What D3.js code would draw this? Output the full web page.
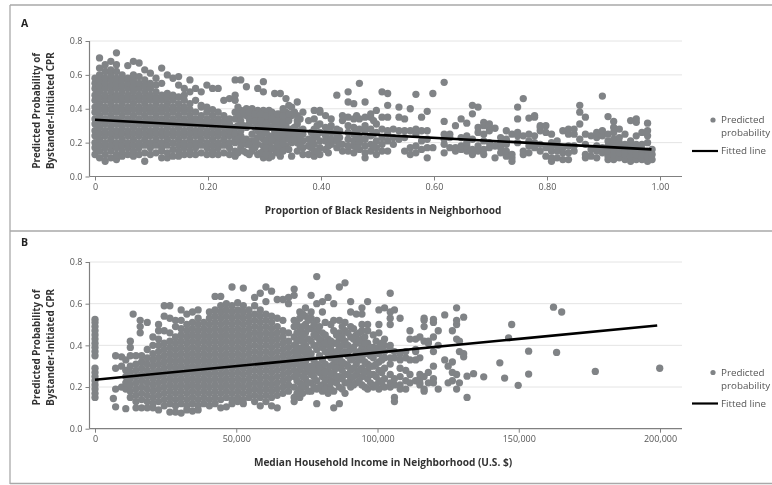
<!DOCTYPE html>
<html>
<head>
<meta charset="utf-8">
<script src="https://cdn.jsdelivr.net/npm/d3@7"></script>
<style>
body { margin: 0; background: #fff; }
svg { display: block; font-family: "Open Sans", sans-serif; filter: blur(0.35px); }
</style>
</head>
<body>
<svg id="chart" width="772" height="485"></svg>
<script>
// values: [x, [y, y, ...]]
var pointsA = [
  [0.000, [.13,.17,.20,.24,.27,.31,.34,.38,.41,.45,.48,.52,.55,.58]],
  [0.008, [.11,.15,.185,.22,.255,.29,.325,.36,.395,.43,.465,.50,.535,.57,.60,.64,.70]],
  [0.018, [.09,.13,.17,.20,.24,.27,.31,.34,.38,.41,.45,.48,.52,.55,.58,.62,.66]],
  [0.028, [.11,.15,.185,.22,.255,.29,.325,.36,.395,.43,.465,.50,.535,.57,.60,.63,.68]],
  [0.038, [.10,.13,.17,.20,.24,.27,.31,.34,.38,.41,.45,.48,.52,.55,.58,.62,.66,.73]],
  [0.048, [.12,.15,.185,.22,.255,.29,.325,.36,.395,.43,.465,.50,.535,.57,.60]],
  [0.058, [.13,.17,.20,.24,.27,.31,.34,.38,.41,.45,.48,.52,.55,.58,.655]],
  [0.068, [.12,.15,.185,.22,.255,.29,.325,.36,.395,.43,.465,.50,.535,.57,.60,.68]],
  [0.078, [.13,.17,.20,.24,.27,.31,.34,.38,.41,.45,.48,.52,.55,.59,.67]],
  [0.088, [.09,.14,.185,.22,.255,.29,.325,.36,.395,.43,.465,.50,.535,.57,.63]],
  [0.098, [.13,.17,.20,.24,.27,.31,.34,.38,.41,.45,.48,.52,.55,.61]],
  [0.108, [.14,.185,.22,.255,.29,.325,.36,.395,.43,.465,.50,.54,.58]],
  [0.118, [.11,.15,.17,.20,.24,.27,.31,.34,.38,.41,.45,.48,.55,.64]],
  [0.128, [.11,.14,.185,.22,.255,.29,.325,.36,.395,.43,.465,.49,.60]],
  [0.138, [.12,.16,.20,.24,.27,.31,.34,.38,.41,.45,.48,.58]],
  [0.148, [.12,.15,.185,.22,.255,.29,.325,.36,.395,.43,.47,.54,.59]],
  [0.158, [.13,.17,.20,.24,.27,.31,.34,.38,.41,.45,.48,.52]],
  [0.168, [.13,.15,.185,.22,.255,.29,.325,.36,.395,.43,.50,.57]],
  [0.178, [.13,.17,.20,.24,.27,.31,.34,.38,.45,.52]],
  [0.188, [.14,.185,.22,.255,.29,.325,.36,.41,.42,.50]],
  [0.198, [.13,.17,.20,.24,.27,.31,.34,.38,.41,.54]],
  [0.208, [.13,.15,.185,.22,.255,.29,.325,.36,.395,.52]],
  [0.218, [.13,.17,.20,.24,.27,.31,.34,.38,.52]],
  [0.228, [.14,.185,.22,.255,.29,.325,.36,.45]],
  [0.238, [.13,.17,.20,.24,.27,.31,.34,.46]],
  [0.248, [.12,.15,.20,.22,.255,.29,.34,.38,.45,.48,.57]],
  [0.258, [.17,.20,.24,.27,.33,.36,.39,.57]],
  [0.268, [.14,.19,.22,.29,.36,.40,.53]],
  [0.278, [.15,.17,.21,.25,.33,.36,.40]],
  [0.288, [.13,.19,.23,.27,.31,.35,.39,.52]],
  [0.298, [.11,.15,.18,.22,.26,.30,.34,.39,.50,.56]],
  [0.308, [.11,.14,.19,.24,.29,.33,.39]],
  [0.318, [.16,.21,.25,.27,.31,.34,.49]],
  [0.328, [.12,.17,.22,.26,.30,.34,.37,.49]],
  [0.338, [.18,.23,.27,.30,.35,.38,.46]],
  [0.348, [.12,.20,.24,.28,.36,.41]],
  [0.358, [.15,.20,.24,.31,.33,.36,.44]],
  [0.368, [.13,.17,.21,.25,.28,.38]],
  [0.378, [.13,.18,.22,.33]],
  [0.388, [.12,.15,.19,.23,.28,.34,.39]],
  [0.398, [.13,.17,.21,.26,.31,.38,.39]],
  [0.408, [.16,.21,.24,.29,.36]],
  [0.418, [.19,.22,.26,.30,.34]],
  [0.428, [.17,.21,.24,.28,.48]],
  [0.438, [.15,.19,.33,.36]],
  [0.448, [.15,.18,.22,.26,.30,.35,.44,.50]],
  [0.458, [.14,.18,.21,.25,.29,.34,.43]],
  [0.468, [.16,.20,.23,.28,.34,.55]],
  [0.478, [.11,.14,.18,.22,.27,.30,.35,.44]],
  [0.488, [.15,.19,.24,.28,.35,.37]],
  [0.498, [.13,.17,.21,.26,.31,.39]],
  [0.508, [.15,.19,.23,.28,.35,.50]],
  [0.518, [.15,.21,.25,.27,.35,.42,.49]],
  [0.528, [.19,.23,.28]],
  [0.538, [.22,.27,.35,.41]],
  [0.548, [.15,.23,.27,.34]],
  [0.558, [.13,.17,.27,.40]],
  [0.568, [.14,.18,.25,.28,.485]],
  [0.578, [.16,.21,.27,.35]],
  [0.588, [.11,.17,.22,.27,.385]],
  [0.598, [.17,.49]],
  [0.618, [.14,.19,.22,.25,.325,.556]],
  [0.628, [.17,.23,.25]],
  [0.638, [.15,.17,.30]],
  [0.648, [.16,.18,.23,.34]],
  [0.658, [.15,.18,.20,.24,.315]],
  [0.668, [.13,.16,.22,.37,.42]],
  [0.678, [.15,.18,.26,.29,.41]],
  [0.688, [.13,.16,.21,.25,.32,.30]],
  [0.698, [.17,.20,.27,.31,.29]],
  [0.708, [.11,.18,.285]],
  [0.718, [.14,.17,.20,.23]],
  [0.728, [.12,.15,.19,.22,.27]],
  [0.738, [.09,.11,.13,.25]],
  [0.748, [.20,.24,.26,.34,.41]],
  [0.758, [.13,.15,.24,.46]],
  [0.768, [.14,.18,.21,.25,.345]],
  [0.778, [.17,.20,.24,.35,.36]],
  [0.788, [.15,.19,.27,.29,.30]],
  [0.798, [.12,.17,.26,.30]],
  [0.808, [.09,.11,.15,.18,.20,.25]],
  [0.818, [.11,.15,.18,.21]],
  [0.828, [.10,.14,.17,.27]],
  [0.838, [.10,.14,.18,.25,.28]],
  [0.848, [.15,.18,.25,.28]],
  [0.858, [.22,.31,.38,.42]],
  [0.868, [.11,.13,.19,.25,.35]],
  [0.878, [.12,.16,.24]],
  [0.888, [.11,.15,.18,.23,.26]],
  [0.898, [.14,.17,.24,.27,.475]],
  [0.908, [.10,.12,.15,.18,.21,.25,.354]],
  [0.918, [.10,.13,.16,.19,.22,.26,.29,.325]],
  [0.928, [.11,.14,.17,.20,.23,.28]],
  [0.938, [.10,.13,.16,.19,.25]],
  [0.948, [.09,.12,.15,.18,.21,.33]],
  [0.958, [.10,.13,.16,.19,.24,.32,.34]],
  [0.968, [.10,.13,.16,.19,.26]],
  [0.978, [.09,.12,.15,.20,.24,.27,.315]],
  [0.986, [.10,.13,.16]]
];
// thicker part of panel A, between the bars of the list above
var denseA = [
  [0.253, [.14,.22,.30,.37,.41]],
  [0.263, [.15,.22,.30,.38]],
  [0.273, [.13,.19,.31,.34,.38]],
  [0.283, [.17,.21,.29,.33,.37]],
  [0.293, [.14,.24,.28,.33,.37]],
  [0.303, [.13,.17,.21,.26,.31,.36]],
  [0.313, [.12,.17,.22,.29,.35,.38]],
  [0.323, [.14,.19,.24,.29,.33,.37]],
  [0.333, [.15,.20,.25,.32,.36,.40]],
  [0.343, [.16,.22,.26,.33,.37,.42]],
  [0.353, [.22,.26,.29,.38]],
  [0.363, [.18,.23,.27,.34]],
  [0.383, [.17,.21,.26]],
  [0.393, [.15,.24,.30]],
  [0.413, [.14,.18,.28]],
  [0.433, [.19,.23,.27]],
  [0.463, [.17,.23,.27,.36]],
  [0.493, [.18,.25,.33]]
];
var fitA = [[0, .335], [.985, .16]];
var xTicksA = [0, .2, .4, .6, .8, 1];
var xLabelsA = ["0", "0.20", "0.40", "0.60", "0.80", "1.00"];

var pointsB = [
  [0, [.15,.17,.19,.21,.23,.25,.27,.29,.35,.37,.39,.41,.43,.45,.47,.49,.51,.525]],
  [6500, [.145]],
  [7300, [.105,.19,.29,.35]],
  [9400, [.20,.30,.345]],
  [10900, [.096,.19,.22,.25,.28,.33]],
  [12500, [.15,.18,.21,.24,.27,.30,.35,.39,.42]],
  [13500, [.55]],
  [14500, [.10,.13,.16,.19,.22,.25,.28,.31,.35]],
  [16000, [.46,.49,.52]],
  [16500, [.10,.14,.17,.20,.23,.26,.29,.32,.35]],
  [18500, [.10,.13,.16,.19,.22,.25,.28,.31,.34,.38,.51]],
  [20500, [.10,.12,.15,.18,.21,.24,.27,.30,.33,.36,.40,.44]],
  [22500, [.09,.13,.16,.19,.22,.25,.28,.31,.34,.37,.40,.43,.47,.50]],
  [24500, [.11,.14,.17,.20,.23,.26,.29,.32,.35,.38,.41,.47,.54,.59]],
  [26500, [.08,.12,.15,.18,.21,.24,.27,.30,.33,.36,.39,.42,.46,.53,.59]],
  [28500, [.08,.11,.14,.17,.20,.23,.26,.29,.32,.35,.38,.41,.44,.49,.52]],
  [30500, [.075,.12,.15,.18,.21,.24,.27,.30,.33,.36,.39,.42,.45,.48,.52,.57]],
  [32500, [.09,.11,.14,.17,.20,.23,.26,.29,.32,.35,.38,.41,.44,.47,.50,.55]],
  [34500, [.085,.12,.15,.18,.21,.24,.27,.30,.33,.36,.39,.42,.45,.48,.51,.56]],
  [36500, [.09,.11,.14,.17,.20,.23,.26,.29,.32,.35,.38,.41,.44,.47,.50,.53,.57]],
  [38500, [.12,.15,.18,.21,.24,.27,.30,.33,.36,.39,.42,.45,.48,.51]],
  [40500, [.11,.14,.17,.20,.23,.26,.29,.32,.35,.38,.41,.44,.47,.50,.53,.56]],
  [42500, [.12,.15,.18,.21,.24,.27,.30,.33,.36,.39,.42,.45,.48,.51,.54,.57,.635]],
  [44500, [.10,.14,.17,.20,.23,.26,.29,.32,.35,.38,.41,.44,.47,.50,.53,.56,.59,.635]],
  [46500, [.105,.15,.18,.21,.24,.27,.30,.33,.36,.39,.42,.45,.48,.51,.54,.57,.60]],
  [48500, [.12,.14,.17,.20,.23,.26,.29,.32,.35,.38,.41,.44,.47,.50,.53,.56,.59,.68]],
  [50500, [.13,.15,.18,.21,.24,.27,.30,.33,.36,.39,.42,.45,.48,.51,.54,.57,.605]],
  [52500, [.12,.14,.17,.20,.23,.26,.29,.32,.35,.38,.41,.44,.47,.50,.53,.56,.59,.675]],
  [54500, [.15,.18,.21,.24,.27,.30,.33,.36,.39,.42,.45,.48,.51,.54,.57]],
  [56500, [.13,.16,.19,.22,.25,.28,.31,.34,.37,.40,.43,.46,.49,.52,.55,.59,.63]],
  [58500, [.11,.15,.18,.21,.24,.27,.30,.33,.36,.39,.42,.45,.48,.51,.54,.57,.65]],
  [60500, [.13,.16,.19,.22,.25,.28,.31,.34,.37,.40,.43,.46,.49,.52,.55,.61,.68]],
  [62500, [.11,.15,.18,.21,.24,.27,.30,.33,.36,.39,.42,.45,.48,.51,.54,.66]],
  [64500, [.10,.16,.19,.22,.25,.28,.31,.34,.37,.40,.43,.46,.49,.53,.62]],
  [66500, [.17,.20,.23,.26,.29,.32,.35,.38,.41,.44,.47,.52,.62]],
  [68500, [.18,.21,.24,.27,.30,.33,.36,.39,.42,.46,.60,.63]],
  [70500, [.13,.15,.20,.25,.28,.31,.34,.37,.40,.44,.49,.52,.64,.67]],
  [72500, [.15,.19,.22,.28,.30,.34,.37,.43,.47,.53,.56]],
  [74500, [.20,.24,.27,.32,.36,.40,.46,.50,.54,.58]],
  [76500, [.18,.22,.26,.30,.36,.42,.48,.53,.56,.64]],
  [78500, [.12,.19,.23,.28,.31,.38,.44,.47,.52,.60,.73]],
  [80500, [.18,.21,.25,.29,.33,.39,.42,.46,.56,.61]],
  [82500, [.17,.20,.24,.28,.36,.40,.43,.63]],
  [84500, [.10,.18,.23,.27,.31,.35,.41,.47,.52,.60]],
  [86500, [.12,.20,.25,.30,.34,.39,.43,.46,.52,.68]],
  [88500, [.17,.22,.26,.31,.37,.42,.47,.51,.70]],
  [90500, [.20,.24,.28,.33,.38,.44,.49,.56,.61]],
  [92500, [.22,.26,.31,.36,.41,.45,.55]],
  [94500, [.21,.25,.29,.34,.39,.43,.47,.50,.55,.58]],
  [96500, [.19,.24,.28,.31,.38,.41,.50,.47,.61]],
  [98500, [.20,.26,.30,.34,.36,.39,.45]],
  [100500, [.19,.23,.28,.32,.36,.39,.46,.50,.57]],
  [102500, [.20,.24,.29,.34,.37,.40,.43,.58]],
  [104500, [.20,.22,.26,.31,.34,.38,.40,.50,.53,.56,.65]],
  [106000, [.15,.13,.21,.24,.34,.37,.57]],
  [108000, [.19,.21,.25,.29,.33,.36,.53]],
  [110000, [.19,.23,.28,.34,.37]],
  [111500, [.22,.26,.33,.43,.47]],
  [113500, [.23,.33,.37,.38,.43]],
  [115000, [.21,.22,.24,.26,.34,.44]],
  [116500, [.18,.19,.25,.42,.49,.52,.53]],
  [118000, [.22,.27,.42,.41]],
  [119800, [.22,.24,.30,.37,.44,.51,.525]],
  [121500, [.19,.40,.47]],
  [123800, [.33,.546]],
  [125000, [.22,.30]],
  [126500, [.23,.27,.32,.47]],
  [128000, [.19,.26,.43,.50,.52,.58]],
  [129000, [.22,.37,.42]],
  [130500, [.535,.36,.345]],
  [131700, [.15,.252]],
  [134000, [.264]],
  [137600, [.249]],
  [143300, [.316]],
  [145000, [.243]],
  [146400, [.436]],
  [147500, [.50]],
  [149800, [.208]],
  [153500, [.372,.262]],
  [162300, [.583]],
  [163400, [.366]],
  [165200, [.56]],
  [177100, [.275]],
  [199900, [.29]]
];
// thicker part of panel B, right of the main cloud
var denseB = [
  [71500, [.17,.23,.26,.33,.36,.39,.42,.46,.50]],
  [73500, [.17,.21,.25,.30,.33,.39,.42,.45,.49,.55]],
  [75500, [.18,.22,.29,.34,.38,.43,.48,.52]],
  [77500, [.20,.25,.28,.33,.40,.45,.50]],
  [79500, [.20,.27,.30,.35,.41,.43,.49]],
  [81500, [.19,.23,.27,.31,.37,.41,.45,.51]],
  [83500, [.19,.22,.26,.30,.34,.38,.42,.50]],
  [85500, [.22,.25,.29,.33,.37,.41,.45]],
  [87500, [.19,.24,.28,.32,.36,.40,.44,.49]],
  [89500, [.22,.26,.30,.35,.40,.46]],
  [91500, [.21,.25,.29,.34,.39,.43,.48]],
  [93500, [.23,.28,.33,.37,.42,.46]],
  [95500, [.20,.27,.32,.36,.41,.44]],
  [97500, [.22,.26,.30,.35,.39]],
  [99500, [.21,.25,.31,.37,.42]],
  [101500, [.22,.27,.33,.38,.41]]
];
var fitB = [[0, .235], [199000, .495]];
var xTicksB = [0, 50000, 100000, 150000, 200000];
var xLabelsB = ["0", "50,000", "100,000", "150,000", "200,000"];

var yTicks = [0, .2, .4, .6, .8];
var POINT_COLOR = "#808386";
var TEXT_COLOR = "#555";

var svg = d3.select("#chart");

// outer frame of the figure
[[10, 5, 772, 5], [10, 5, 10, 484], [10, 231, 772, 231], [10, 483.5, 772, 483.5]].forEach(function(s) {
  svg.append("line")
    .attr("x1", s[0]).attr("y1", s[1]).attr("x2", s[2]).attr("y2", s[3])
    .attr("stroke", "#a9a9a9").attr("stroke-width", 1.3);
});

function drawPanel(o) {
  var LEFT = 89.5, RIGHT = 682;
  var x = d3.scaleLinear().domain([0, o.xMax]).range([95, 660]);
  var y = d3.scaleLinear().domain([0, .8]).range([o.bottom, o.top]);
  var g = svg.append("g");

  // gridlines
  g.selectAll(".grid").data(yTicks.slice(1)).enter().append("line")
    .attr("x1", LEFT).attr("x2", RIGHT)
    .attr("y1", function(d) { return y(d); }).attr("y2", function(d) { return y(d); })
    .attr("stroke", "#e4e4e4").attr("stroke-width", 1);

  // axes
  var yAxis = g.append("g").attr("transform", "translate(" + LEFT + ",0)")
    .call(d3.axisLeft(y).tickValues(yTicks).tickSize(4).tickPadding(3).tickFormat(d3.format(".1f")));
  yAxis.select(".domain").attr("d", "M0," + o.top + "V" + o.bottom);
  var xAxis = g.append("g").attr("transform", "translate(0," + o.bottom + ")")
    .call(d3.axisBottom(x).tickValues(o.xTicks).tickSize(4).tickPadding(3)
      .tickFormat(function(d, i) { return o.xLabels[i]; }));
  xAxis.select(".domain").attr("d", "M" + LEFT + ",0H" + RIGHT);
  [yAxis, xAxis].forEach(function(a) {
    a.selectAll(".domain").attr("stroke", "#808080").attr("stroke-width", 1.2);
    a.selectAll(".tick line").attr("stroke", "#808080");
    a.selectAll("text").attr("fill", TEXT_COLOR).style("font-size", "9px")
      .style("font-family", '"Open Sans", sans-serif');
  });

  // points
  var points = o.points.concat(o.dense).flatMap(function(c) {
    return c[1].map(function(v) { return [c[0], v]; });
  });
  g.selectAll(".pt").data(points).enter().append("circle")
    .attr("cx", function(d) { return x(d[0]); })
    .attr("cy", function(d) { return y(d[1]); })
    .attr("r", 3.65)
    .attr("fill", POINT_COLOR);

  // fitted line
  g.append("path")
    .attr("d", d3.line().x(function(d) { return x(d[0]); }).y(function(d) { return y(d[1]); })(o.fit))
    .attr("stroke", "#000").attr("stroke-width", 2.6).attr("fill", "none");

  // panel letter and titles
  g.append("text").attr("x", 21).attr("y", o.letterY).text(o.letter)
    .attr("font-size", 10.5).attr("font-weight", 700).attr("fill", "#222");
  g.append("text").attr("x", 383).attr("y", o.bottom + 37).attr("text-anchor", "middle").text(o.xTitle)
    .attr("font-size", 10.1).attr("font-weight", 700).attr("fill", "#333");
  var cy = (o.top + o.bottom) / 2 + 2;
  ["Predicted Probability of", "Bystander-Initiated CPR"].forEach(function(t, i) {
    g.append("text")
      .attr("transform", "translate(" + (40 + i * 13.5) + "," + cy + ") rotate(-90)")
      .attr("text-anchor", "middle").text(t)
      .attr("font-size", 9.8).attr("font-weight", 700).attr("fill", "#333");
  });

  // legend
  var lg = g.append("g").attr("transform", "translate(0," + o.legendY + ")").attr("font-size", 9.8).attr("fill", TEXT_COLOR);
  lg.append("circle").attr("cx", 713).attr("cy", 0).attr("r", 2.6).attr("fill", POINT_COLOR);
  lg.append("text").attr("x", 721).attr("y", 3).text("Predicted");
  lg.append("text").attr("x", 721).attr("y", 16).text("probability");
  lg.append("line").attr("x1", 692).attr("x2", 718).attr("y1", 31).attr("y2", 31)
    .attr("stroke", "#000").attr("stroke-width", 2.2);
  lg.append("text").attr("x", 721).attr("y", 34).text("Fitted line");
}

drawPanel({
  letter: "A", letterY: 27, top: 41, bottom: 176.5, xMax: 1, points: pointsA, dense: denseA, fit: fitA,
  xTicks: xTicksA, xLabels: xLabelsA, legendY: 120,
  xTitle: "Proportion of Black Residents in Neighborhood"
});
drawPanel({
  letter: "B", letterY: 246, top: 262, bottom: 428.7, xMax: 200000, points: pointsB, dense: denseB, fit: fitB,
  xTicks: xTicksB, xLabels: xLabelsB, legendY: 372.5,
  xTitle: "Median Household Income in Neighborhood (U.S. $)"
});
</script>
</body>
</html>
